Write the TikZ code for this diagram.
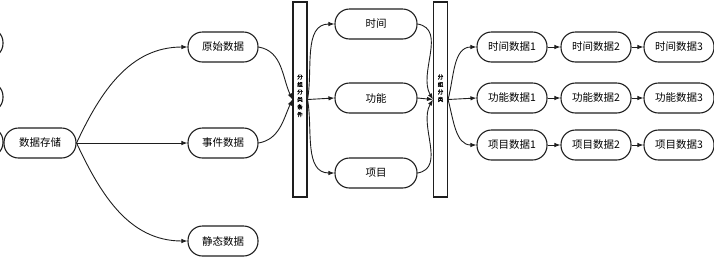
\documentclass[tikz,border=0pt]{standalone}
\usepackage{fontspec}
\usepackage{tikz}
\usetikzlibrary{arrows.meta,positioning,calc}
\newfontfamily\cjk{Noto Sans CJK SC}
\newfontfamily\cjkb[FakeBold=2]{Noto Sans CJK SC}
\definecolor{EdgeK}{RGB}{30,30,30}
\tikzset{
  pill/.style={draw=EdgeK,line width=1.1pt,rounded corners=14.5pt,minimum height=30pt,
    minimum width=70pt,inner sep=1pt,font=\cjk\fontsize{10.5}{12}\selectfont},
  barbox/.style={draw=EdgeK,line width=1.1pt,minimum width=14pt,minimum height=195pt,inner sep=0pt},
  bartext/.style={font=\cjkb\fontsize{5.5}{7.5}\selectfont,align=center,anchor=north},
  link/.style={-{Latex[length=6pt,width=4.5pt]},EdgeK,line width=0.9pt}
}
\begin{document}
\begin{tikzpicture}[x=1pt,y=-1pt]
        \useasboundingbox (0,0) rectangle (714,258);
        % cut-off boxes at the left border
        \begin{scope}
          \clip (0,0) rectangle (714,258);
          \node[pill] (prevA) at (-32,43) {};
          \node[pill] (prevB) at (-32,97) {};
          \node[pill] (prevC) at (-32,142) {};
        \end{scope}
        \node[pill,minimum width=72pt] (store) at (40,143) {数据存储};
        \node[pill] (raw) at (223,47) {原始数据};
        \node[pill] (event) at (223,143) {事件数据};
        \node[pill] (static) at (223,241) {静态数据};
        \node[barbox] (barA) at (300,99.5) {};
        \node[bartext] (barAtext) at (300,71) {分\\组\\分\\类\\条\\件};
        \node[pill,minimum width=82pt] (time) at (376,24) {时间};
        \node[pill,minimum width=82pt] (func) at (376,98) {功能};
        \node[pill,minimum width=82pt] (item) at (376,173) {项目};
        \node[barbox] (barB) at (440.5,99.5) {};
        \node[bartext] (barBtext) at (440.5,71) {分\\组\\分\\类};
        \foreach \r/\y/\t in {t/47/时间,f/98/功能,i/145/项目}{
          \node[pill] (\r1) at (512,\y) {\t 数据1};
          \node[pill] (\r2) at (596,\y) {\t 数据2};
          \node[pill] (\r3) at (679,\y) {\t 数据3};
          \draw[link] (\r1) -- (\r2);
          \draw[link] (\r2) -- (\r3);}
        \draw[link] (store.east) to[out=65,in=180] (raw.west);
        \draw[link] (store.east) -- (event.west);
        \draw[link] (store.east) to[out=-65,in=180] (static.west);
        \draw[link] (raw.east) to[out=-10,in=115] (barA.west);
        \draw[link] (event.east) to[out=10,in=-115] (barA.west);
        \draw[link] (barA.east) to[out=80,in=180] (time.west);
        \draw[link] (barA.east) -- (func.west);
        \draw[link] (barA.east) to[out=-80,in=180] (item.west);
        \draw[link] (time.east) to[out=-10,in=120] (barB.west);
        \draw[link] (func.east) -- (barB.west);
        \draw[link] (item.east) to[out=10,in=-120] (barB.west);
        \draw[link] (barB.east) to[out=75,in=180] (t1.west);
        \draw[link] (barB.east) -- (f1.west);
        \draw[link] (barB.east) to[out=-75,in=180] (i1.west);
      \end{tikzpicture}
\end{document}
